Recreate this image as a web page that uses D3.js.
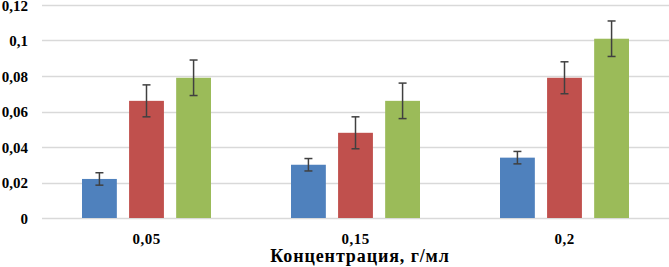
<!DOCTYPE html>
<html>
<head>
<meta charset="utf-8">
<script src="https://cdn.jsdelivr.net/npm/d3@7"></script>
<style>
  html, body { margin: 0; padding: 0; background: #fff; }
</style>
</head>
<body>
<div id="chart"></div>
<script>
(function(){
  'use strict';

  // data
  var categories = ["0,05", "0,15", "0,2"];
  var seriesNames = ["s1", "s2", "s3"];
  var s1 = [0.022, 0.030, 0.034];
  var s2 = [0.066, 0.048, 0.079];
  var s3 = [0.079, 0.066, 0.101];
  var errors = [0.0035, 0.009, 0.010];
  var yTicks = [0, 0.02, 0.04, 0.06, 0.08, 0.1, 0.12];
  var xTitle = "Концентрация, г/мл";

  var colors = ["#4f81bd", "#c0504d", "#9bbb59"];
  var values = [s1, s2, s3];
  var serif = "Liberation Serif";

  var width = 669, height = 267;

  var svg = d3.select("#chart")
              .append("svg")
              .attr("width", width)
              .attr("height", height)
              .attr("font-family", serif)
              .attr("font-weight", "bold");

  var x = d3.scaleBand()
            .domain(categories)
            .range([42, 669])
            .paddingInner(0)
            .paddingOuter(0);

  var xInner = d3.scaleBand()
            .domain(seriesNames)
            .range([40, 169])
            .paddingInner(0.26)
            .paddingOuter(0);

  var y = d3.scaleLinear()
            .domain([0, 0.12])
            .range([218, 5]);

  // grid lines
  svg.append("g")
    .selectAll("line")
    .data(yTicks)
    .enter().append("line")
    .attr("x1", 42)
    .attr("x2", 669)
    .attr("y1", function(d){ return Math.round(y(d)) + 0.5; })
    .attr("y2", function(d){ return Math.round(y(d)) + 0.5; })
    .attr("stroke", "#d9d9d9")
    .attr("stroke-width", 1.5);

  // y tick labels via axis
  var yAxis = svg.append("g")
    .attr("transform", "translate(28,0)")
    .call(d3.axisLeft(y).tickValues(yTicks).tickSize(0).tickPadding(0)
      .tickFormat(function(d){ return d3.format("")(+d.toFixed(2)).replace(".", ","); }));
  yAxis.attr("font-family", serif).attr("font-size", 15);
  yAxis.select(".domain").remove();
  yAxis.selectAll("text")
    .attr("fill", "#000")
    .attr("dy", "0.35em");

  // bars
  var groups = svg.append("g")
    .selectAll("g")
    .data(categories)
    .enter().append("g")
    .attr("transform", function(d){ return "translate(" + x(d) + ",0)"; });

  groups.each(function(cat, ci){
    var g = d3.select(this);
    seriesNames.forEach(function(s, si){
      var v = values[si][ci];
      var bx = xInner(s);
      g.append("rect")
        .attr("x", bx)
        .attr("y", y(v))
        .attr("width", xInner.bandwidth())
        .attr("height", y(0) - y(v))
        .attr("fill", colors[si]);

      // error bar
      var cx = bx + xInner.bandwidth() / 2;
      var e = errors[si];
      g.append("line")
        .attr("x1", cx).attr("x2", cx)
        .attr("y1", y(v + e)).attr("y2", y(v - e))
        .attr("stroke", "#404040").attr("stroke-width", 1.5);
      [v + e, v - e].forEach(function(t){
        g.append("line")
          .attr("x1", cx - 4).attr("x2", cx + 4)
          .attr("y1", y(t)).attr("y2", y(t))
          .attr("stroke", "#404040").attr("stroke-width", 1.5);
      });
    });
  });

  // x labels
  var xAxis = svg.append("g")
    .attr("transform", "translate(0,233)")
    .call(d3.axisBottom(x).tickSize(0).tickPadding(0));
  xAxis.attr("font-family", serif).attr("font-size", 15);
  xAxis.select(".domain").remove();
  xAxis.selectAll("text")
    .attr("fill", "#000")
    .attr("dy", "0.71em")
    .attr("letter-spacing", 0.5);

  svg.append("text")
    .attr("x", 360)
    .attr("y", 262)
    .attr("text-anchor", "middle")
    .attr("font-size", 18)
    .attr("letter-spacing", 0.9)
    .attr("fill", "#000")
    .text(xTitle);

})();
</script>
</body>
</html>
